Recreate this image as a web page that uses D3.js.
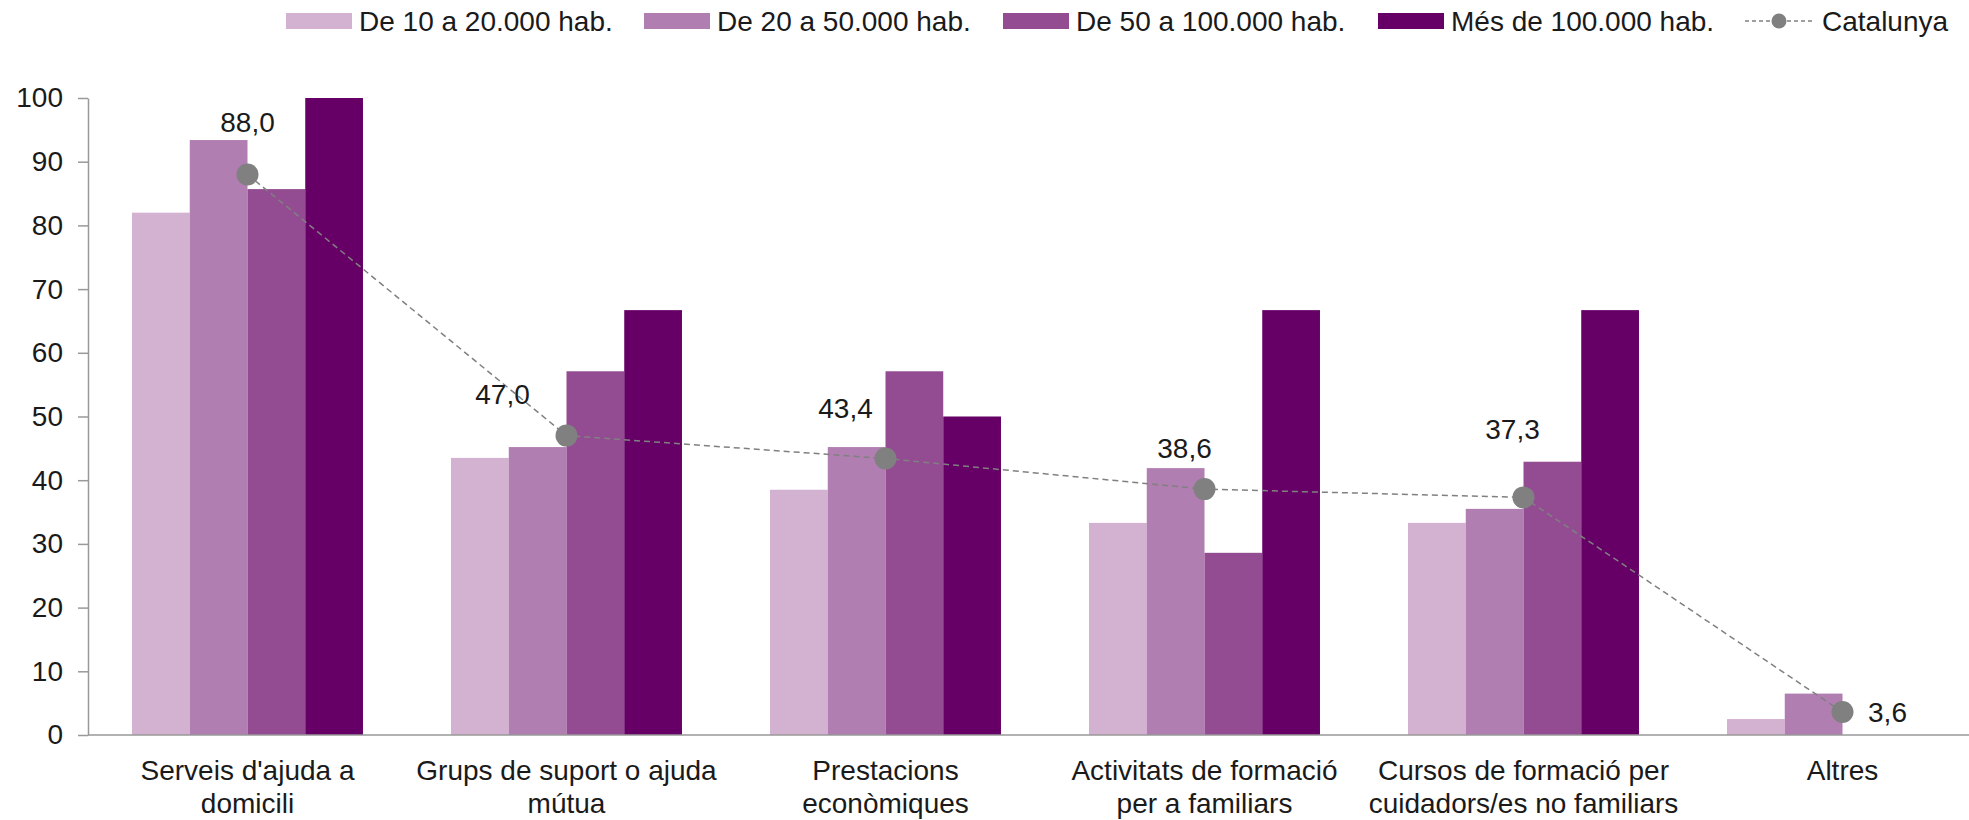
<!DOCTYPE html>
<html><head><meta charset="utf-8">
<script src="https://cdn.jsdelivr.net/npm/d3@7"></script>
<style>
html,body{margin:0;padding:0;background:#fff;}
svg text{font-family:"Liberation Sans",Arial,sans-serif;font-weight:400;fill:#1a1a1a;}
</style></head>
<body><svg id="c" width="1969" height="820"></svg>
<script>
const categories = [
  ["Serveis d'ajuda a","domicili"],
  ["Grups de suport o ajuda","mútua"],
  ["Prestacions","econòmiques"],
  ["Activitats de formació","per a familiars"],
  ["Cursos de formació per","cuidadors/es no familiars"],
  ["Altres"]
];
const seriesNames = ["De 10 a 20.000 hab.","De 20 a 50.000 hab.","De 50 a 100.000 hab.","Més de 100.000 hab."];
const s10_20 = [82.0, 43.5, 38.5, 33.3, 33.3, 2.5];
const s20_50 = [93.4, 45.2, 45.2, 41.9, 35.5, 6.5];
const s50_100 = [85.7, 57.1, 57.1, 28.6, 42.9, 0];
const s100plus = [100, 66.7, 50.0, 66.7, 66.7, 0];
const catalunya = [88.0, 47.0, 43.4, 38.6, 37.3, 3.6];
const catalunyaName = "Catalunya";
const yTicks = [0,10,20,30,40,50,60,70,80,90,100];
const colors = ["#D3B1D0","#B07EB0","#934C92","#660066"];
const labelOffsets = [[0,-52],[-64,-41],[-40,-50],[-20,-41],[-11,-68],[45,0]];

const series = [s10_20, s20_50, s50_100, s100plus];
const svg = d3.select("#c");
const fontSize = 28;

const x0 = d3.scaleBand().domain(d3.range(categories.length)).range([88, 88 + 6*319]).paddingInner(0.276).paddingOuter(0.138);
const x1 = d3.scaleBand().domain(d3.range(series.length)).range([0, x0.bandwidth()]);
const y = d3.scaleLinear().domain([0,100]).range([735, 98]);

// bars
series.forEach((vals, si) => {
  svg.append("g").selectAll("rect").data(vals).join("rect")
    .attr("x", (d,i) => x0(i) + x1(si))
    .attr("y", d => y(d))
    .attr("width", x1.bandwidth())
    .attr("height", d => y(0) - y(d))
    .attr("fill", colors[si]);
});

// y axis
const yAxis = svg.append("g").attr("transform","translate(88,0)")
  .call(d3.axisLeft(y).tickValues(yTicks).tickSize(10).tickPadding(15).tickSizeOuter(0));
yAxis.select(".domain").attr("stroke","#999").attr("stroke-width",1.5);
yAxis.selectAll(".tick line").attr("stroke","#999").attr("stroke-width",1.5);
yAxis.selectAll(".tick text").attr("font-size",fontSize).attr("font-family",null).style("fill","#1a1a1a");

// x baseline
svg.append("line").attr("x1",88).attr("x2",1969).attr("y1",y(0)).attr("y2",y(0))
  .attr("stroke","#999").attr("stroke-width",1.5);

// category labels
categories.forEach((lines,i) => {
  const t = svg.append("text").attr("text-anchor","middle").attr("font-size",fontSize)
    .attr("x", x0(i) + x0.bandwidth()/2).attr("y", 780);
  lines.forEach((ln,k) => t.append("tspan").attr("x", x0(i)+x0.bandwidth()/2).attr("dy", k===0?0:33).text(ln));
});

// catalunya line
const cx = i => x0(i) + x0.bandwidth()/2;
svg.append("path").datum(catalunya)
  .attr("d", d3.line().x((d,i)=>cx(i)).y(d=>y(d)))
  .attr("fill","none").attr("stroke","#808080").attr("stroke-width",1.5).attr("stroke-dasharray","6,4");
svg.append("g").selectAll("circle").data(catalunya).join("circle")
  .attr("cx",(d,i)=>cx(i)).attr("cy",d=>y(d)).attr("r",11).attr("fill","#808080");
svg.append("g").selectAll("text").data(catalunya).join("text")
  .attr("x",(d,i)=>cx(i)+labelOffsets[i][0]).attr("y",(d,i)=>y(d)+labelOffsets[i][1])
  .attr("text-anchor","middle").attr("dominant-baseline","central").attr("font-size",fontSize)
  .text(d => d3.format(".1f")(d).replace(".",","));

// legend
const legX = [286, 644, 1003, 1378];
seriesNames.forEach((n,i) => {
  svg.append("rect").attr("x",legX[i]).attr("y",13).attr("width",66).attr("height",16).attr("fill",colors[i]);
  svg.append("text").attr("x",legX[i]+73).attr("y",21).attr("dominant-baseline","central").attr("font-size",fontSize).text(n);
});
svg.append("line").attr("x1",1745).attr("x2",1813).attr("y1",21).attr("y2",21)
  .attr("stroke","#808080").attr("stroke-width",1.5).attr("stroke-dasharray","4,3");
svg.append("circle").attr("cx",1779).attr("cy",21).attr("r",7.5).attr("fill","#808080");
svg.append("text").attr("x",1822).attr("y",21).attr("dominant-baseline","central").attr("font-size",fontSize).text(catalunyaName);
</script></body></html>
